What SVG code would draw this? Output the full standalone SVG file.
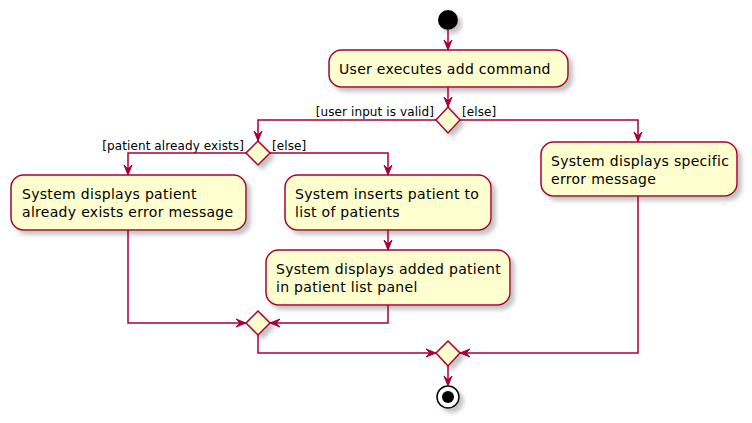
<svg xmlns="http://www.w3.org/2000/svg" width="752" height="423" viewBox="0 0 752 423">
<defs>
<filter id="sh" x="-20%" y="-20%" width="150%" height="160%">
<feGaussianBlur in="SourceAlpha" stdDeviation="2" result="b"/>
<feColorMatrix in="b" type="matrix" values="0 0 0 0 0.2  0 0 0 0 0.2  0 0 0 0 0.2  0 0 0 0.45 0" result="c"/>
<feOffset in="c" dx="4" dy="4" result="o"/>
<feMerge><feMergeNode in="o"/><feMergeNode in="SourceGraphic"/></feMerge>
</filter>
<marker id="ah" viewBox="0 0 10 10" refX="10" refY="5" markerWidth="10" markerHeight="10" markerUnits="userSpaceOnUse" orient="auto">
<polygon points="0,1 10,5 0,9 4,5" fill="#A80036" stroke="#A80036" stroke-width="1"/>
</marker>
</defs>
<style>
.box{fill:#FEFECE;stroke:#A80036;stroke-width:1.5;filter:url(#sh)}
.dia{fill:#FEFECE;stroke:#A80036;stroke-width:1.5;filter:url(#sh)}
.t{font-family:"DejaVu Sans",sans-serif;font-size:14px;letter-spacing:0.3px;fill:#000}
.l{font-family:"DejaVu Sans",sans-serif;font-size:12px;letter-spacing:0.1px;fill:#000}
.c{fill:none;stroke:#A80036;stroke-width:1.5}
</style>
<rect width="752" height="423" fill="#FFFFFF"/>
<g id="start"><circle cx="448" cy="20" r="10" fill="#000" filter="url(#sh)"/></g>
<g id="n1"><rect class="box" x="329" y="50" width="239" height="37" rx="12.5"/><text class="t" x="339" y="74">User executes add command</text></g>
<g id="d1"><polygon class="dia" points="448,107 460,120 448,133 436,120"/></g>
<g id="d2"><polygon class="dia" points="258,141 270,153 258,165 246,153"/></g>
<g id="n2"><rect class="box" x="11" y="175" width="235" height="55" rx="12.5"/><text class="t" x="22" y="199">System displays patient</text><text class="t" x="22" y="217">already exists error message</text></g>
<g id="n3"><rect class="box" x="285" y="175" width="206" height="55" rx="12.5"/><text class="t" x="295" y="199">System inserts patient to</text><text class="t" x="295" y="217">list of patients</text></g>
<g id="n4"><rect class="box" x="266" y="250" width="244" height="55" rx="12.5"/><text class="t" x="276" y="274">System displays added patient</text><text class="t" x="276" y="292">in patient list panel</text></g>
<g id="n5"><rect class="box" x="541" y="142" width="196" height="54" rx="12.5"/><text class="t" x="551" y="166">System displays specific</text><text class="t" x="551" y="184">error message</text></g>
<g id="d3"><polygon class="dia" points="258,311 270,323 258,335 246,323"/></g>
<g id="d4"><polygon class="dia" points="448,341 460,353 448,366 436,353"/></g>
<g id="end"><circle cx="448" cy="397" r="11" fill="#FFFFFF" stroke="#000" stroke-width="1.5" filter="url(#sh)"/><circle cx="448" cy="397" r="6" fill="#000"/></g>
<g id="labels">
<text class="l" x="434" y="116" text-anchor="end">[user input is valid]</text>
<text class="l" x="462" y="116">[else]</text>
<text class="l" x="244" y="150" text-anchor="end">[patient already exists]</text>
<text class="l" x="272" y="150">[else]</text>
</g>
<g id="connectors">
<path class="c" d="M448,30 V50" marker-end="url(#ah)"/>
<path class="c" d="M448,87 V107" marker-end="url(#ah)"/>
<path class="c" d="M436,120 H258 V141" marker-end="url(#ah)"/>
<path class="c" d="M460,120 H638 V142" marker-end="url(#ah)"/>
<path class="c" d="M246,153 H128 V175" marker-end="url(#ah)"/>
<path class="c" d="M270,153 H388 V175" marker-end="url(#ah)"/>
<path class="c" d="M388,230 V250" marker-end="url(#ah)"/>
<path class="c" d="M128,230 V323 H246" marker-end="url(#ah)"/>
<path class="c" d="M388,305 V323 H270" marker-end="url(#ah)"/>
<path class="c" d="M258,335 V353 H436" marker-end="url(#ah)"/>
<path class="c" d="M638,196 V353 H460" marker-end="url(#ah)"/>
<path class="c" d="M448,366 V386" marker-end="url(#ah)"/>
</g>
</svg>
